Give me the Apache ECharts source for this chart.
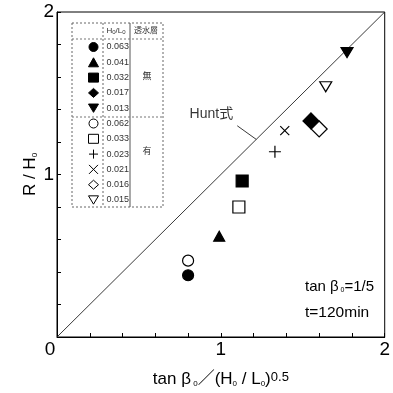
<!DOCTYPE html>
<html>
<head>
<meta charset="utf-8">
<script src="https://cdn.jsdelivr.net/npm/echarts@6/dist/echarts.min.js"></script>
<style>
  html, body { margin: 0; padding: 0; background: #fff; }
  #chart { width: 393px; height: 393px; }
</style>
</head>
<body>
<div id="chart"></div>
<script>
// H0/L0 of each run (legend labels)
const ratios = ['0.063', '0.041', '0.032', '0.017', '0.013', '0.062', '0.033', '0.023', '0.021', '0.016', '0.015'];
// tanβ0 / (H0/L0)^0.5
const surfX = [0.80, 0.99, 1.13, 1.55, 1.77, 0.80, 1.11, 1.33, 1.39, 1.60, 1.64];
// run-up R / H0
const runupY = [0.38, 0.62, 0.96, 1.33, 1.75, 0.47, 0.80, 1.14, 1.27, 1.28, 1.54];
// permeable layer groups: first five runs without, last six with
const layerLabels = ['無', '有'];
// Hunt formula R/H0 = tanβ0/(H0/L0)^0.5
const huntLine = [[0, 0], [2, 2]];
const huntLeader = [[1.10, 1.30], [1.216, 1.216]];
const huntLabelAt = [0.942, 1.374];
const axisTicks = [0, 1, 2];

const FONT = '"Liberation Sans", Arial, "Noto Sans CJK JP", sans-serif';
const plusPath = 'path://M0,6L12,6M6,0L6,12';
const crossPath = 'path://M0,0L10,10M10,0L0,10';
const downTriPath = 'path://M0,0L12,0L6,10Z';

// marker look for each run, in the same order as ratios
const markerStyles = [
  { symbol: 'circle', size: 11, fill: '#000' },
  { symbol: 'triangle', size: [11, 10], fill: '#000' },
  { symbol: 'rect', size: 12, fill: '#000' },
  { symbol: 'diamond', size: 16, fill: '#000' },
  { symbol: downTriPath, size: [12, 10], fill: '#000' },
  { symbol: 'circle', size: 11, fill: '#fff' },
  { symbol: 'rect', size: 12, fill: '#fff' },
  { symbol: plusPath, size: 12, fill: '#000' },
  { symbol: crossPath, size: 9, fill: '#000' },
  { symbol: 'diamond', size: 16, fill: '#fff' },
  { symbol: downTriPath, size: [12, 10], fill: '#fff' }
];

const chart = echarts.init(document.getElementById('chart'), null, { renderer: 'canvas' });

const scatterSeries = ratios.map((name, i) => {
  const st = markerStyles[i];
  return {
    name: name,
    type: 'scatter',
    data: [[surfX[i], runupY[i]]],
    symbol: st.symbol,
    symbolSize: st.size,
    itemStyle: { color: st.fill, borderColor: '#000', borderWidth: 1.2, opacity: 1 },
    z: 5
  };
});

const subRich = {
  a: { fontSize: 17, fontFamily: FONT, color: '#000' },
  s: { fontSize: 8, fontFamily: FONT, color: '#000', verticalAlign: 'bottom' },
  p: { fontSize: 13, fontFamily: FONT, color: '#000', verticalAlign: 'top' }
};

const option = {
  backgroundColor: '#fff',
  animation: false,
  grid: { left: 57, right: 7, top: 12, bottom: 52, show: true, borderColor: '#000', borderWidth: 1 },
  xAxis: {
    type: 'value', min: 0, max: 2, interval: 0.2,
    axisLine: { lineStyle: { color: '#000', width: 1 } },
    axisTick: { inside: true, length: 4, lineStyle: { color: '#000' } },
    splitLine: { show: false },
    axisLabel: {
      margin: 3, fontSize: 19, fontFamily: FONT, color: '#000',
      formatter: v => {
        const r = Math.round(v);
        if (Math.abs(v - r) > 1e-6 || axisTicks.indexOf(r) < 0) return '';
        return r === 0 ? '{o|0}' : String(r);
      },
      rich: { o: { fontSize: 19, fontFamily: FONT, color: '#000', padding: [0, 14, 0, 0] } }
    },
    name: '{a|tan β}{s| 0}{a|／(H}{s|0}{a| / L}{s|0}{a|)}{p|0.5}',
    nameLocation: 'middle', nameGap: 34, nameMoveOverlap: false,
    nameTextStyle: { rich: subRich }
  },
  yAxis: {
    type: 'value', min: 0, max: 2, interval: 0.2,
    axisLine: { lineStyle: { color: '#000', width: 1 } },
    axisTick: { inside: true, length: 4, lineStyle: { color: '#000' } },
    splitLine: { show: false },
    axisLabel: {
      margin: 3, fontSize: 19, fontFamily: FONT, color: '#000',
      formatter: v => {
        const r = Math.round(v);
        if (Math.abs(v - r) > 1e-6 || r === 0 || axisTicks.indexOf(r) < 0) return '';
        return String(r);
      }
    },
    name: '{a|R / H}{s|0}',
    nameLocation: 'middle', nameGap: 18, nameMoveOverlap: false,
    nameTextStyle: { rich: subRich }
  },
  legend: {
    data: ratios,
    orient: 'vertical',
    left: 83, top: 37,
    itemWidth: 10, itemHeight: 9, itemGap: 5.3,
    selectedMode: false,
    itemStyle: { borderWidth: 1, borderColor: '#000' },
    textStyle: { fontSize: 9, lineHeight: 10, fontFamily: FONT, color: '#333', padding: [0, 0, 0, 3] }
  },
  series: [
    {
      name: 'Hunt', type: 'line', data: huntLine, symbol: 'none',
      lineStyle: { color: '#222', width: 0.9 }, silent: true, z: 2
    },
    {
      name: 'HuntLeader', type: 'line', data: huntLeader, symbol: 'none',
      lineStyle: { color: '#222', width: 0.9 }, silent: true, z: 2
    },
    {
      name: 'HuntLabel', type: 'scatter', data: [huntLabelAt], symbolSize: 0,
      label: { show: true, position: 'inside', formatter: 'Hunt式', fontSize: 14, fontFamily: FONT, color: '#000' },
      silent: true, z: 3
    }
  ].concat(scatterSeries),
  graphic: [
    // legend table frame
    { type: 'group', silent: true, children: [
      { type: 'rect', shape: { x: 72, y: 23, width: 91, height: 184 },
        style: { fill: 'none', stroke: '#666', lineWidth: 1, lineDash: [2, 2] } },
      { type: 'line', shape: { x1: 103, y1: 23, x2: 103, y2: 207 },
        style: { stroke: '#666', lineWidth: 1, lineDash: [2, 2] } },
      { type: 'line', shape: { x1: 130, y1: 23, x2: 130, y2: 207 },
        style: { stroke: '#555', lineWidth: 1 } },
      { type: 'line', shape: { x1: 72, y1: 39, x2: 163, y2: 39 },
        style: { stroke: '#777', lineWidth: 1, lineDash: [2, 2] } },
      { type: 'line', shape: { x1: 72, y1: 117, x2: 163, y2: 117 },
        style: { stroke: '#777', lineWidth: 1, lineDash: [2, 2] } },
      { type: 'text', x: 116, y: 31, style: {
          text: '{t|H}{u|0}{t|/L}{u|0}', align: 'center', verticalAlign: 'middle',
          rich: { t: { fontSize: 8, fontFamily: FONT, fill: '#333' }, u: { fontSize: 6, fontFamily: FONT, fill: '#333', verticalAlign: 'bottom' } } } },
      { type: 'text', x: 146, y: 31, style: {
          text: '透水層', align: 'center', verticalAlign: 'middle', fontSize: 8, fontFamily: FONT, fill: '#333' } },
      { type: 'text', x: 147, y: 77, style: {
          text: layerLabels[0], align: 'center', verticalAlign: 'middle', fontSize: 9, fontFamily: FONT, fill: '#333' } },
      { type: 'text', x: 147, y: 152, style: {
          text: layerLabels[1], align: 'center', verticalAlign: 'middle', fontSize: 9, fontFamily: FONT, fill: '#333' } }
    ] },
    // test conditions
    { type: 'text', left: 305, top: 279, silent: true, style: {
        text: '{a|tan β}{s| 0}{a|=1/5}',
        rich: { a: { fontSize: 15, fontFamily: FONT, fill: '#000' }, s: { fontSize: 7, fontFamily: FONT, fill: '#000', verticalAlign: 'bottom' } } } },
    { type: 'text', left: 305, top: 305, silent: true, style: {
        text: 't=120min', fontSize: 15.5, fontFamily: FONT, fill: '#000' } }
  ]
};

chart.setOption(option);
</script>
</body>
</html>
